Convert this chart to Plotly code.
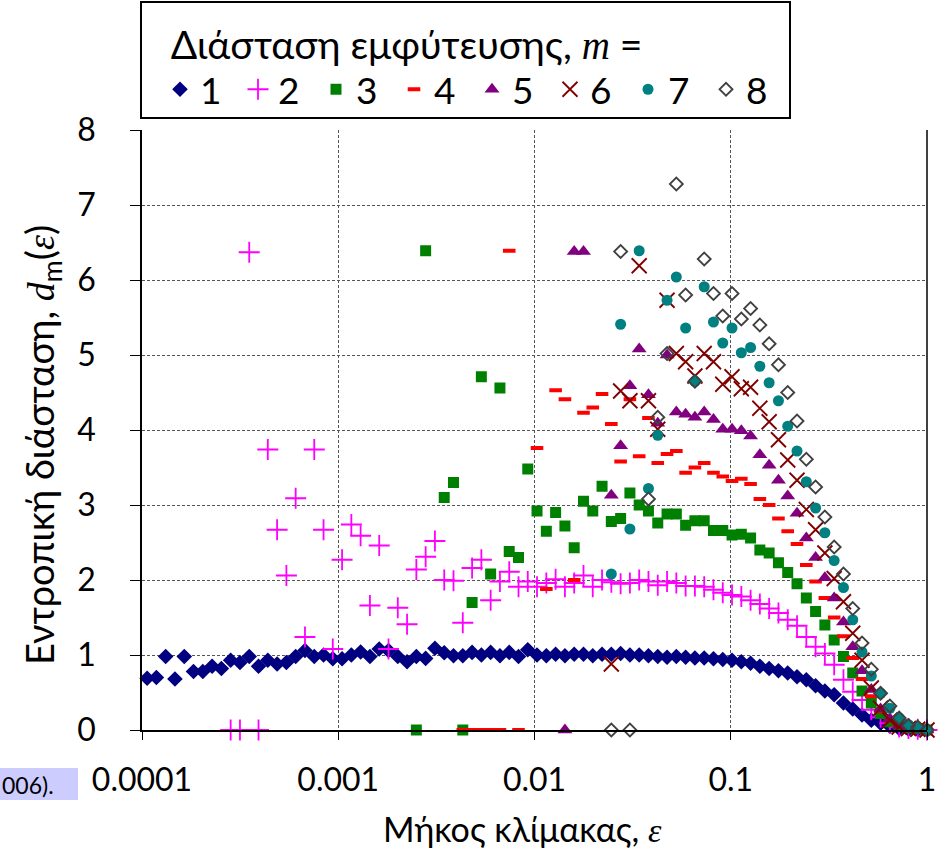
import plotly.graph_objects as go

_ = None

# Common scale-length grid (epsilon)
EPS = [1.062e-4, 1.184e-4, 1.320e-4, 1.472e-4, 1.642e-4, 1.830e-4, 2.041e-4, 2.276e-4, 2.538e-4, 2.830e-4,
       3.156e-4, 3.519e-4, 3.924e-4, 4.376e-4, 4.880e-4, 5.442e-4, 6.068e-4, 6.767e-4, 7.546e-4, 8.415e-4,
       9.380e-4, 1.046e-3, 1.166e-3, 1.300e-3, 1.450e-3, 1.617e-3, 1.803e-3, 2.011e-3, 2.242e-3, 2.500e-3,
       2.788e-3, 3.109e-3, 3.467e-3, 3.866e-3, 4.311e-3, 4.808e-3, 5.361e-3, 5.978e-3, 6.666e-3, 7.434e-3,
       8.290e-3, 9.241e-3, 1.030e-2, 1.149e-2, 1.281e-2, 1.429e-2, 1.593e-2, 1.777e-2, 1.981e-2, 2.209e-2,
       2.463e-2, 2.747e-2, 3.063e-2, 3.415e-2, 3.808e-2, 4.247e-2, 4.736e-2, 5.281e-2, 5.889e-2, 6.567e-2,
       7.323e-2, 8.165e-2, 9.105e-2, 0.1015, 0.1132, 0.1262, 0.1407, 0.1569, 0.1750, 0.1951,
       0.2176, 0.2427, 0.2706, 0.3017, 0.3365, 0.3752, 0.4184, 0.4666, 0.5202, 0.5801,
       0.6469, 0.7214, 0.8044, 0.8970, 1.000]

d1 = [0.69, 0.70, 0.98, 0.68, 0.98, 0.78, 0.78, 0.85, 0.82, 0.93,
      0.90, 0.98, 0.85, 0.93, 0.88, 0.90, 0.98, 1.06, 0.98, 1.00,
      0.95, 0.95, 1.00, 1.04, 0.98, 1.08, 1.06, 0.98, 0.91, 0.98,
      0.955, 1.09, 1.03, 0.99, 0.99, 1.035, 1.00, 1.035, 0.99, 1.035,
      0.98, 1.07, 1.00, 0.99, 1.01, 0.99, 1.01, 1.01, 0.99, 1.01,
      1.01, 1.02, 1.00, 1.00, 0.99, 0.98, 0.97, 0.98, 0.97, 0.96,
      0.96, 0.95, 0.94, 0.93, 0.91, 0.89, 0.85, 0.82, 0.79, 0.76,
      0.71, 0.67, 0.59, 0.52, 0.47, 0.36, 0.28, 0.20, 0.13, 0.09,
      0.05, 0.02, 0.01, 0.005, 0.0]

d2 = [_, _, _, _, _, _, _, _, _, 0.0,
      0.0, 6.37, 0.0, 3.74, 2.67, 2.06, 3.09, 1.24, 3.74, 2.67,
      1.08, 2.27, 2.74, 2.59, 1.66, 2.46, 1.08, 1.63, 1.41, 2.14,
      2.31, 2.52, 2.00, 1.99, 1.43, 2.16, 2.27, 1.73, 1.98, 2.11,
      1.91, 1.98, 1.91, 1.96, 2.01, 1.91, 1.96, 2.06, 1.91, 2.00,
      1.97, 1.95, 1.96, 2.00, 1.98, 1.93, 1.98, 1.96, 1.92, 1.92,
      1.91, 1.87, 1.83, 1.80, 1.78, 1.73, 1.68, 1.62, 1.56, 1.47,
      1.39, 1.24, 1.11, 1.02, 0.87, 0.67, 0.51, 0.40, 0.27, 0.17,
      0.09, 0.04, 0.02, 0.01, 0.0]

d3 = [_] * 29 + [
      0.0, 6.39, _, 3.10, 3.30, 0.0, 1.70, 4.71, 2.08, 4.56, 2.38,
      2.30, 3.48, 2.92, 2.65, 2.90, 2.72, 2.43, 3.05, 2.92, 3.25,
      2.78, 2.82, 3.16, 3.00, 2.92, 2.76, 2.88, 2.88, 2.73, 2.79,
      2.79, 2.66, 2.66, 2.60, 2.61, 2.56, 2.40, 2.36, 2.23, 2.10,
      1.95, 1.76, 1.58, 1.40, 1.20, 0.98, 0.76, 0.52, 0.36, 0.22,
      0.11, 0.06, 0.03, 0.02, 0.0]

d4 = [_] * 34 + [
      0.0, 0.0, 0.0, 0.0, 0.0, 6.39,
      0.0, _, 3.76, 1.88, 4.53, 4.41, 2.00, 4.23, 4.30, 4.48,
      4.08, 3.58, 4.41, 3.65, 4.16, 3.56, 3.68, 3.72, 3.43, 3.50,
      3.56, 3.43, 3.38, 3.32, 3.35, 3.28, 3.08, 3.00, 2.82, 2.65,
      2.48, 2.20, 1.98, 1.76, 1.50, 1.25, 0.96, 0.68, 0.45, 0.25,
      0.12, 0.05, 0.02, 0.01, 0.0]

d5 = [_] * 45 + [
      0.0, 6.38, 6.38, _, _,
      3.13, 3.79, 4.59, 5.08, 4.47, 4.09, 5.00, 4.24, 4.21, 4.17,
      4.24, 4.14, 4.01, 4.01, 3.99, 3.92, 3.67, 3.53, 3.33, 3.12,
      2.89, 2.56, 2.30, 2.03, 1.76, 1.44, 1.11, 0.79, 0.54, 0.28,
      0.15, 0.06, 0.03, 0.02, 0.0]

d6 = [_] * 50 + [
      0.88, 4.52, 4.39, 6.19, 4.39, 4.01, 5.73, 5.02, 4.91, 4.72,
      5.02, 4.91, 4.61, 4.71, 4.55, 4.57, 4.29, 4.11, 3.87, 3.60,
      3.33, 2.94, 2.67, 2.36, 2.02, 1.71, 1.29, 0.93, 0.56, 0.29,
      0.13, 0.04, 0.02, 0.01, 0.0]

d7 = [_] * 50 + [
      2.08, 5.41, 2.68, 6.39, 3.22, 3.93, 5.73, 6.04, 5.36, 4.65,
      5.91, 5.44, 5.16, 5.36, 5.03, 5.10, 4.85, 4.63, 4.39, 4.05,
      3.72, 3.31, 2.96, 2.63, 2.26, 1.90, 1.47, 1.04, 0.72, 0.49,
      0.29, 0.16, 0.07, 0.03, 0.0]

d8 = [_] * 50 + [
      0.0, 6.38, 0.0, _, 3.08, 4.17, 5.02, 7.28, 5.80, 4.65,
      6.28, 5.82, 5.52, 5.82, 5.48, 5.62, 5.40, 5.15, 4.87, 4.50,
      4.12, 3.61, 3.24, 2.84, 2.44, 2.08, 1.62, 1.16, 0.81, 0.49,
      0.32, 0.16, 0.06, 0.04, 0.0]

SERIES_NAMES = ["1", "2", "3", "4", "5", "6", "7", "8"]
SERIES_DATA = [d1, d2, d3, d4, d5, d6, d7, d8]

MARKERS = [
    dict(symbol="diamond", size=12, color="#000080", line=dict(width=0)),
    dict(symbol="cross-thin", size=15, color="#FF00FF", line=dict(width=1.8, color="#FF00FF")),
    dict(symbol="square", size=11, color="#008000", line=dict(width=0)),
    dict(symbol="line-ew", size=9, color="#FF0000", line=dict(width=4, color="#FF0000")),
    dict(symbol="triangle-up", size=13, color="#800080", line=dict(width=0)),
    dict(symbol="x-thin", size=15, color="#800000", line=dict(width=1.8, color="#800000")),
    dict(symbol="circle", size=11, color="#008080", line=dict(width=0)),
    dict(symbol="diamond-open", size=10, color="#404040", line=dict(width=1.8, color="#404040")),
]

FONT = "Lato, 'Liberation Sans', sans-serif"
SERIF_SPAN = "<span style=\"font-family:Liberation Serif\"><i>{}</i></span>"

fig = go.Figure()
for name, ys, mk in zip(SERIES_NAMES, SERIES_DATA, MARKERS):
    xs = [e for e, y in zip(EPS, ys) if y is not None]
    yv = [y for y in ys if y is not None]
    fig.add_trace(go.Scatter(x=xs, y=yv, mode="markers", name=name, marker=mk, cliponaxis=False))

W, H = 946, 853
ML, MR, MT, MB = 142, 19, 130, 123
PW, PH = W - ML - MR, H - MT - MB


def px2x(px):
    return (px - ML) / PW


def py2y(py):
    return (H - MB - py) / PH


grid = dict(showgrid=True, gridcolor="#555555", griddash="3px,2px", gridwidth=1)

fig.update_layout(
    width=W, height=H,
    margin=dict(l=ML, r=MR, t=MT, b=MB, autoexpand=False),
    paper_bgcolor="white", plot_bgcolor="white",
    font=dict(family=FONT, size=32, color="black"),
    showlegend=True,
    legend=dict(
        orientation="h", x=px2x(160), y=py2y(8), xanchor="left", yanchor="top",
        bgcolor="rgba(0,0,0,0)", borderwidth=0,
        font=dict(family=FONT, size=37, color="black"),
        title=dict(text="\u00a0Διάσταση εμφύτευσης, " + SERIF_SPAN.format("m") + " =",
                   side="top", font=dict(family=FONT, size=39, color="black")),
        entrywidth=33, entrywidthmode="pixels",
        itemclick=False, itemdoubleclick=False,
    ),
    xaxis=dict(
        type="log", range=[-4, 0],
        tickvals=[0.0001, 0.001, 0.01, 0.1, 1],
        ticktext=["0.0001", "0.001", "0.01", "0.1", "1"],
        ticks="outside", ticklen=8, tickcolor="black", tickwidth=1,
        showline=True, linecolor="black", linewidth=1.5,
        zeroline=False, ticklabelstandoff=13,
        tickfont=dict(family=FONT, size=32),
        **grid,
    ),
    yaxis=dict(
        range=[0, 8], dtick=1,
        ticks="outside", ticklen=10, tickcolor="black", tickwidth=1,
        showline=True, linecolor="black", linewidth=1.5,
        zeroline=False, ticklabelstandoff=28,
        tickfont=dict(family=FONT, size=32),
        **grid,
    ),
    shapes=[
        dict(type="rect", xref="paper", yref="paper", x0=px2x(141), x1=px2x(790), y0=py2y(118), y1=py2y(2),
             line=dict(color="black", width=2), fillcolor="white", layer="below"),
        dict(type="line", xref="paper", yref="paper", x0=1, x1=1, y0=0, y1=1,
             line=dict(color="black", width=1.5)),
        dict(type="rect", xref="paper", yref="paper", x0=px2x(0), x1=px2x(78), y0=py2y(800), y1=py2y(768),
             line=dict(width=0), fillcolor="#CCCCFF", layer="below"),
    ],
    annotations=[
        dict(text="006).", xref="paper", yref="paper", x=px2x(0), y=py2y(785), xanchor="left", yanchor="middle",
             showarrow=False, font=dict(family=FONT, size=23, color="black")),
        dict(text="Μήκος κλίμακας, " + SERIF_SPAN.format("ε"), xref="paper", yref="paper",
             x=px2x(522), y=py2y(828), xanchor="center", yanchor="middle", showarrow=False,
             font=dict(family=FONT, size=34, color="black")),
        dict(text="Εντροπική διάσταση, " + SERIF_SPAN.format("d") + "<sub>m</sub>(" + SERIF_SPAN.format("ε") + ")",
             xref="paper", yref="paper", x=px2x(42), y=py2y(445), xanchor="center", yanchor="middle",
             textangle=-90, showarrow=False, font=dict(family=FONT, size=38, color="black")),
    ],
)

fig.write_html("out.html", config={"displayModeBar": False},
               post_script="document.body.style.margin='0';document.body.style.overflow='hidden';")
